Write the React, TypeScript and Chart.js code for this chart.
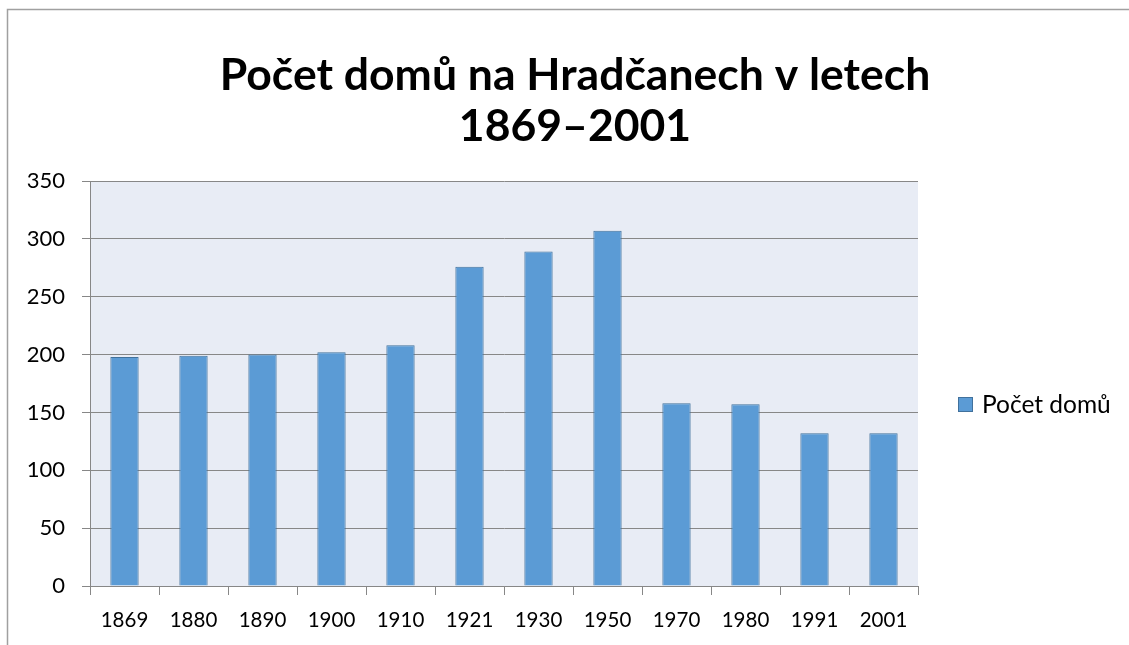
import React, { useEffect, useRef } from "react";
import { Chart, registerables } from "chart.js";

Chart.register(...registerables);

const titleLines = ["Počet domů na Hradčanech v letech", "1869–2001"];
const seriesName = "Počet domů";
const years = ["1869", "1880", "1890", "1900", "1910", "1921", "1930", "1950", "1970", "1980", "1991", "2001"];
const houses = [198, 199, 200, 202, 208, 276, 289, 307, 158, 157, 132, 132];
const yMin = 0;
const yMax = 350;
const yStep = 50;

const FONT = "Lato, 'Noto Sans', sans-serif";
const BAR_FILL = "#5B9BD5";
const BAR_EDGE = "#41719C";
const GRID = "#878787";
const PLOT_BG = "#E8ECF5";

const chromePlugin = {
  id: "chrome",
  beforeDraw(chart: any) {
    const { ctx, chartArea, width, height } = chart;
    ctx.save();
    ctx.fillStyle = "#ffffff";
    ctx.fillRect(0, 0, width, height);
    ctx.strokeStyle = "#A0A0A0";
    ctx.lineWidth = 1.5;
    ctx.beginPath();
    ctx.moveTo(7.5, height);
    ctx.lineTo(7.5, 9.5);
    ctx.lineTo(width, 9.5);
    ctx.stroke();
    ctx.fillStyle = PLOT_BG;
    ctx.fillRect(chartArea.left, chartArea.top, chartArea.right - chartArea.left, chartArea.bottom - chartArea.top);
    ctx.restore();
  },
  afterDraw(chart: any) {
    const { ctx } = chart;
    ctx.save();
    ctx.fillStyle = "#000000";
    ctx.textAlign = "center";
    ctx.textBaseline = "alphabetic";
    ctx.font = `bold 44.5px ${FONT}`;
    ctx.fillText(titleLines[0], 575, 90);
    ctx.fillText(titleLines[1], 575, 141);
    const ds = chart.data.datasets[0];
    ctx.fillStyle = ds.backgroundColor;
    ctx.fillRect(958, 397, 15, 15);
    ctx.strokeStyle = ds.borderColor;
    ctx.lineWidth = 1;
    ctx.strokeRect(958.5, 397.5, 14, 14);
    ctx.fillStyle = "#000000";
    ctx.textAlign = "left";
    ctx.textBaseline = "middle";
    ctx.font = `24.5px ${FONT}`;
    ctx.fillText(ds.label, 982, 405);
    ctx.restore();
  },
};

export default function App() {
  const canvasRef = useRef<HTMLCanvasElement | null>(null);

  useEffect(() => {
    const canvas = canvasRef.current;
    if (!canvas) return;
    const chart = new Chart(canvas, {
      type: "bar",
      data: {
        labels: years,
        datasets: [
          {
            label: seriesName,
            data: houses,
            backgroundColor: BAR_FILL,
            borderColor: BAR_EDGE,
            borderWidth: 1,
            barPercentage: 0.41,
            categoryPercentage: 1,
          },
        ],
      },
      options: {
        animation: false,
        responsive: false,
        maintainAspectRatio: false,
        devicePixelRatio: 1,
        layout: { padding: { left: 0, top: 181, right: 211, bottom: 0 } },
        plugins: {
          legend: { display: false },
          title: { display: false },
          tooltip: { enabled: false },
        },
        scales: {
          x: {
            offset: true,
            grid: {
              offset: true,
              drawOnChartArea: false,
              drawTicks: true,
              tickLength: 9,
              color: GRID,
            },
            border: { display: true, color: GRID, width: 1 },
            ticks: { color: "#000000", font: { family: FONT, size: 20.5 }, padding: 13, maxRotation: 0 },
            afterFit(scale: any) {
              scale.height = 59;
            },
          },
          y: {
            min: yMin,
            max: yMax,
            grid: { color: GRID, tickLength: 8, drawTicks: true },
            border: { display: true, color: GRID, width: 1 },
            ticks: { stepSize: yStep, color: "#000000", font: { family: FONT, size: 22 }, padding: 17 },
            afterFit(scale: any) {
              scale.width = 90;
            },
          },
        },
      },
      plugins: [chromePlugin],
    });
    return () => chart.destroy();
  }, []);

  return (
    <div style={{ position: "fixed", left: 0, top: 0, width: 1129, height: 645, background: "#fff" }}>
      <canvas ref={canvasRef} width={1129} height={645} style={{ display: "block", width: 1129, height: 645 }} />
    </div>
  );
}
